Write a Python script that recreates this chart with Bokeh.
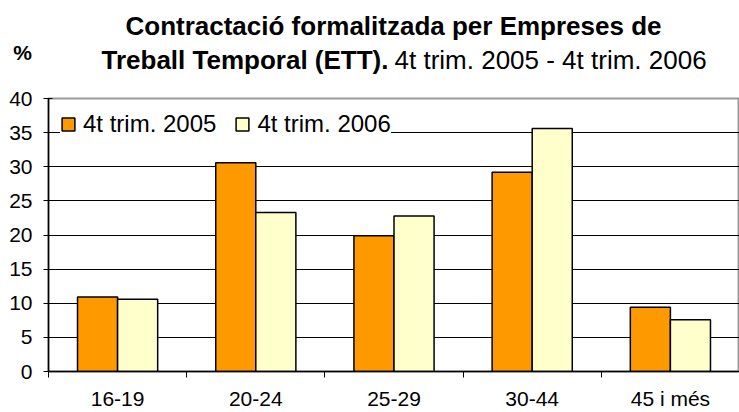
from bokeh.plotting import figure
from bokeh.layouts import column, row
from bokeh.models import Range1d, FixedTicker, Legend, LegendItem, ColumnDataSource
from bokeh.core.properties import value
from bokeh.embed import file_html
from bokeh.resources import INLINE

categories = ["16-19", "20-24", "25-29", "30-44", "45 i més"]
series_names = ["4t trim. 2005", "4t trim. 2006"]
values_2005 = [10.9, 30.6, 19.9, 29.2, 9.4]
values_2006 = [10.6, 23.3, 22.8, 35.6, 7.6]
y_ticks = [0, 5, 10, 15, 20, 25, 30, 35, 40]
title_line1 = "Contractació formalitzada per Empreses de"
title_line2_bold = "Treball Temporal (ETT)."
title_line2_normal = "4t trim. 2005 - 4t trim. 2006"
y_unit = "%"

FONT = "Liberation Sans"
ORANGE = "#FF9900"
PALE = "#FFFFCC"
BAR_W = 0.29
W = 739
HEAD_H = 86

# ---------- header (titles) ----------
h = figure(width=W, height=HEAD_H, x_range=Range1d(0, W), y_range=Range1d(HEAD_H, 0),
           output_backend="svg", toolbar_location=None, x_axis_type=None, y_axis_type=None,
           min_border=0)
h.outline_line_color = None
h.xgrid.grid_line_color = None
h.ygrid.grid_line_color = None
h.background_fill_color = "white"
h.border_fill_color = "white"

def htext(x, y, t, size, bold, align):
    h.text(x=[x], y=[y], text=[t], text_font=value(FONT), text_font_size=size,
           text_font_style="bold" if bold else "normal", text_align=align,
           text_baseline="alphabetic", text_color="black")

htext(393, 25, title_line1, "26px", True, "center")
htext(388, 59, title_line2_bold, "26px", True, "right")
htext(394, 59, title_line2_normal, "26px", False, "left")
htext(22, 52, y_unit, "21px", True, "center")

# ---------- chart ----------
centers = [i + 0.5 for i in range(len(categories))]
src = ColumnDataSource(dict(
    x05=[c - BAR_W / 2 for c in centers],
    x06=[c + BAR_W / 2 for c in centers],
    v05=values_2005,
    v06=values_2006,
))

p = figure(width=W, height=412 - HEAD_H, x_range=Range1d(0, len(categories)), y_range=Range1d(0, 40),
           output_backend="svg", toolbar_location=None,
           min_border_left=48, min_border_right=0, min_border_top=98 - HEAD_H, min_border_bottom=40)
p.background_fill_color = "white"
p.border_fill_color = "white"
p.outline_line_color = "#9a9a9a"
p.outline_line_width = 2

r05 = p.vbar(x="x05", top="v05", width=BAR_W, bottom=0, source=src,
             fill_color=ORANGE, line_color="black", line_width=1.5)
r06 = p.vbar(x="x06", top="v06", width=BAR_W, bottom=0, source=src,
             fill_color=PALE, line_color="black", line_width=1.5)

p.xgrid.grid_line_color = None
p.ygrid.grid_line_color = "black"
p.ygrid.grid_line_width = 1
p.ygrid.ticker = FixedTicker(ticks=y_ticks)

ya = p.yaxis[0]
ya.ticker = FixedTicker(ticks=y_ticks)
ya.axis_line_color = "black"
ya.axis_line_width = 1.5
ya.major_tick_line_color = "black"
ya.major_tick_out = 5
ya.major_tick_in = 4
ya.minor_tick_line_color = None
ya.major_label_standoff = 11
ya.major_label_text_font = FONT
ya.major_label_text_font_size = "21px"
ya.major_label_text_color = "black"

xa = p.xaxis[0]
xa.ticker = FixedTicker(ticks=centers, minor_ticks=list(range(len(categories) + 1)))
xa.major_label_overrides = {c: lab for c, lab in zip(centers, categories)}
xa.axis_line_color = "black"
xa.axis_line_width = 1.5
xa.major_tick_line_color = None
xa.major_tick_out = 0
xa.major_tick_in = 0
xa.minor_tick_line_color = "black"
xa.minor_tick_out = 6
xa.minor_tick_in = 0
xa.major_label_standoff = 9
xa.major_label_text_font = FONT
xa.major_label_text_font_size = "21px"
xa.major_label_text_color = "black"

legend = Legend(items=[LegendItem(label=series_names[0], renderers=[r05]),
                       LegendItem(label=series_names[1], renderers=[r06])],
                location="top_left", orientation="horizontal")
legend.margin = 12
legend.padding = 10
legend.spacing = 18
legend.glyph_width = 16
legend.glyph_height = 16
legend.label_standoff = 7
legend.label_text_font = FONT
legend.label_text_font_size = "24px"
legend.label_text_color = "black"
legend.border_line_color = None
legend.background_fill_color = "white"
legend.background_fill_alpha = 1.0
p.add_layout(legend)

layout = column(row(h), p, spacing=0)
open("out.html", "w").write(file_html(layout, INLINE))
